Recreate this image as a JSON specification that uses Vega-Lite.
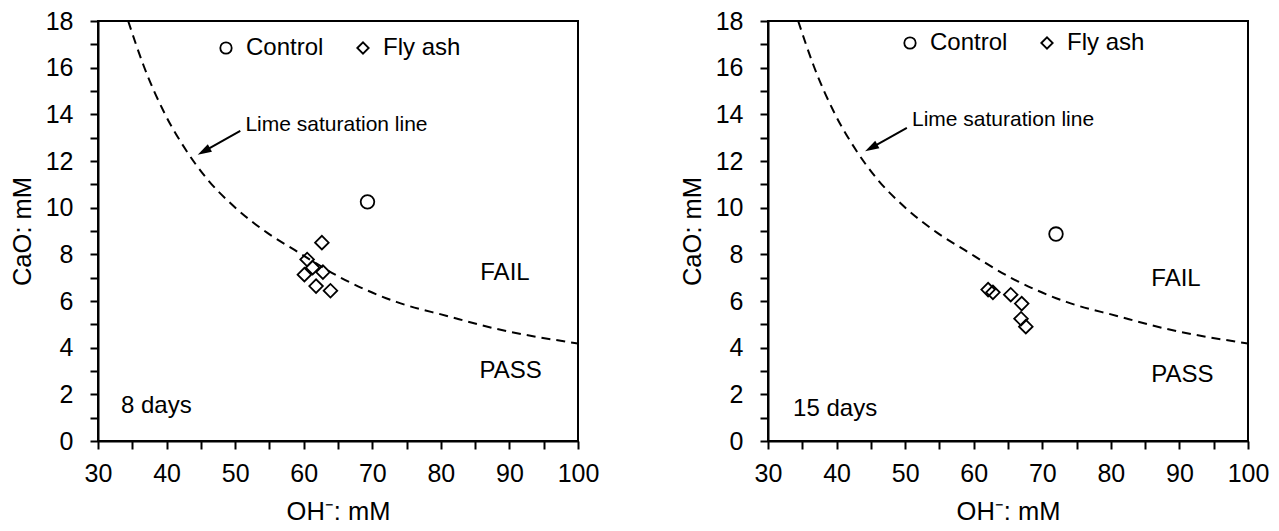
{
  "$schema": "https://vega.github.io/schema/vega-lite/v6.json",
  "background": "white",
  "padding": {"left": 9, "top": 8, "right": 5, "bottom": 0},
  "spacing": 79,
  "config": {
    "font": "Liberation Sans",
    "view": {"stroke": "black", "strokeWidth": 2},
    "axis": {
      "domainColor": "black", "domainWidth": 2, "tickColor": "black", "tickWidth": 2, "tickSize": 8,
      "labelFontSize": 25, "labelColor": "black", "labelFont": "Liberation Sans",
      "titleFontSize": 25.5, "titleFontWeight": "normal", "titleColor": "black", "titleFont": "Liberation Sans",
      "grid": false
    },
    "axisX": {"labelPadding": 12, "titlePadding": 13, "labelFlush": false},
    "axisY": {"labelPadding": 17, "titlePadding": 10},
    "text": {"font": "Liberation Sans", "fontSize": 24, "color": "black"}
  },
  "datasets": {
    "curve": [
      {"oh": 34.4, "cao": 18.0}, {"oh": 36.7, "cao": 16.05}, {"oh": 39.7, "cao": 14.05},
      {"oh": 42.8, "cao": 12.48}, {"oh": 46.0, "cao": 11.2}, {"oh": 49.8, "cao": 10.06},
      {"oh": 54.7, "cao": 8.92}, {"oh": 58.6, "cao": 8.2}, {"oh": 65.4, "cao": 7.0},
      {"oh": 73.6, "cao": 5.95}, {"oh": 80.9, "cao": 5.36}, {"oh": 88.2, "cao": 4.8}, {"oh": 100.0, "cao": 4.18}
    ],
    "d8": [
      {"oh": 69.3, "cao": 10.25, "series": "Control"},
      {"oh": 62.65, "cao": 8.5, "series": "Fly ash"},
      {"oh": 60.5, "cao": 7.78, "series": "Fly ash"},
      {"oh": 61.3, "cao": 7.43, "series": "Fly ash"},
      {"oh": 62.8, "cao": 7.24, "series": "Fly ash"},
      {"oh": 60.1, "cao": 7.13, "series": "Fly ash"},
      {"oh": 61.8, "cao": 6.64, "series": "Fly ash"},
      {"oh": 63.9, "cao": 6.44, "series": "Fly ash"}
    ],
    "d15": [
      {"oh": 72.0, "cao": 8.87, "series": "Control"},
      {"oh": 62.1, "cao": 6.49, "series": "Fly ash"},
      {"oh": 62.8, "cao": 6.37, "series": "Fly ash"},
      {"oh": 65.4, "cao": 6.27, "series": "Fly ash"},
      {"oh": 67.0, "cao": 5.89, "series": "Fly ash"},
      {"oh": 66.9, "cao": 5.24, "series": "Fly ash"},
      {"oh": 67.6, "cao": 4.9, "series": "Fly ash"}
    ],
    "arrow8": [{"oh": 50.75, "cao": 13.29, "oh2": 45.43, "cao2": 12.41}],
    "head8": [{"oh": 45.43, "cao": 12.41}],
    "arrow15": [{"oh": 50.25, "cao": 13.42, "oh2": 45.05, "cao2": 12.56}],
    "head15": [{"oh": 45.05, "cao": 12.56}],
    "lime8": [{"oh": 51.5, "cao": 13.55, "text": "Lime saturation line"}],
    "lime15": [{"oh": 51.0, "cao": 13.77, "text": "Lime saturation line"}],
    "notes8": [
      {"oh": 85.75, "cao": 7.21, "text": "FAIL"},
      {"oh": 85.65, "cao": 3.0, "text": "PASS"},
      {"oh": 33.35, "cao": 1.51, "text": "8 days"}
    ],
    "notes15": [
      {"oh": 85.9, "cao": 6.94, "text": "FAIL"},
      {"oh": 85.9, "cao": 2.84, "text": "PASS"},
      {"oh": 33.66, "cao": 1.38, "text": "15 days"}
    ]
  },
  "resolve": {"scale": {"shape": "independent"}, "legend": {"shape": "independent"}},
  "hconcat": [
    {
      "width": 480, "height": 420,
      "encoding": {
        "x": {"field": "oh", "type": "quantitative",
              "scale": {"domain": [30, 100], "nice": false, "zero": false},
              "axis": {"title": "OH⁻: mM", "values": [30,35,40,45,50,55,60,65,70,75,80,85,90,95,100],
                       "labelExpr": "datum.value % 10 == 0 ? datum.label : ''"}},
        "y": {"field": "cao", "type": "quantitative",
              "scale": {"domain": [0, 18], "nice": false},
              "axis": {"title": "CaO: mM", "values": [0,1,2,3,4,5,6,7,8,9,10,11,12,13,14,15,16,17,18],
                       "labelExpr": "datum.value % 2 == 0 ? datum.label : ''"}}
      },
      "layer": [
        {"data": {"name": "curve"},
         "mark": {"type": "line", "color": "black", "strokeWidth": 2, "strokeDash": [9, 6], "interpolate": "monotone", "clip": true}},
        {"data": {"name": "d8"},
         "mark": {"type": "point", "filled": false, "color": "black", "strokeWidth": 1.8, "size": 185, "opacity": 1},
         "encoding": {"shape": {"field": "series", "type": "nominal",
            "scale": {"domain": ["Control", "Fly ash"], "range": ["circle", "diamond"]},
            "legend": {"orient": "none", "legendX": 116, "legendY": 15, "direction": "horizontal", "title": null,
                       "labelFontSize": 24, "labelColor": "black", "labelFont": "Liberation Sans", "symbolSize": 130, "symbolStrokeWidth": 1.8,
                       "symbolStrokeColor": "black", "symbolFillColor": "transparent", "labelOffset": 8, "columnPadding": 27}}}},
        {"data": {"name": "arrow8"},
         "mark": {"type": "rule", "color": "black", "strokeWidth": 2},
         "encoding": {"x2": {"field": "oh2"}, "y2": {"field": "cao2"}}},
        {"data": {"name": "head8"},
         "mark": {"type": "point", "shape": "M0,-1L-0.6,1L0.6,1Z", "filled": true, "color": "black", "size": 196, "angle": 240.6, "opacity": 1}},
        {"data": {"name": "lime8"},
         "mark": {"type": "text", "align": "left", "baseline": "middle", "fontSize": 21},
         "encoding": {"text": {"field": "text"}}},
        {"data": {"name": "notes8"},
         "mark": {"type": "text", "align": "left", "baseline": "middle", "fontSize": 24},
         "encoding": {"text": {"field": "text"}}}
      ]
    },
    {
      "width": 480, "height": 420,
      "encoding": {
        "x": {"field": "oh", "type": "quantitative",
              "scale": {"domain": [30, 100], "nice": false, "zero": false},
              "axis": {"title": "OH⁻: mM", "values": [30,35,40,45,50,55,60,65,70,75,80,85,90,95,100],
                       "labelExpr": "datum.value % 10 == 0 ? datum.label : ''"}},
        "y": {"field": "cao", "type": "quantitative",
              "scale": {"domain": [0, 18], "nice": false},
              "axis": {"title": "CaO: mM", "values": [0,1,2,3,4,5,6,7,8,9,10,11,12,13,14,15,16,17,18],
                       "labelExpr": "datum.value % 2 == 0 ? datum.label : ''"}}
      },
      "layer": [
        {"data": {"name": "curve"},
         "mark": {"type": "line", "color": "black", "strokeWidth": 2, "strokeDash": [9, 6], "interpolate": "monotone", "clip": true}},
        {"data": {"name": "d15"},
         "mark": {"type": "point", "filled": false, "color": "black", "strokeWidth": 1.8, "size": 185, "opacity": 1},
         "encoding": {"shape": {"field": "series", "type": "nominal",
            "scale": {"domain": ["Control", "Fly ash"], "range": ["circle", "diamond"]},
            "legend": {"orient": "none", "legendX": 130, "legendY": 10, "direction": "horizontal", "title": null,
                       "labelFontSize": 24, "labelColor": "black", "labelFont": "Liberation Sans", "symbolSize": 130, "symbolStrokeWidth": 1.8,
                       "symbolStrokeColor": "black", "symbolFillColor": "transparent", "labelOffset": 8, "columnPadding": 27}}}},
        {"data": {"name": "arrow15"},
         "mark": {"type": "rule", "color": "black", "strokeWidth": 2},
         "encoding": {"x2": {"field": "oh2"}, "y2": {"field": "cao2"}}},
        {"data": {"name": "head15"},
         "mark": {"type": "point", "shape": "M0,-1L-0.6,1L0.6,1Z", "filled": true, "color": "black", "size": 196, "angle": 240.6, "opacity": 1}},
        {"data": {"name": "lime15"},
         "mark": {"type": "text", "align": "left", "baseline": "middle", "fontSize": 21},
         "encoding": {"text": {"field": "text"}}},
        {"data": {"name": "notes15"},
         "mark": {"type": "text", "align": "left", "baseline": "middle", "fontSize": 24},
         "encoding": {"text": {"field": "text"}}}
      ]
    }
  ]
}
